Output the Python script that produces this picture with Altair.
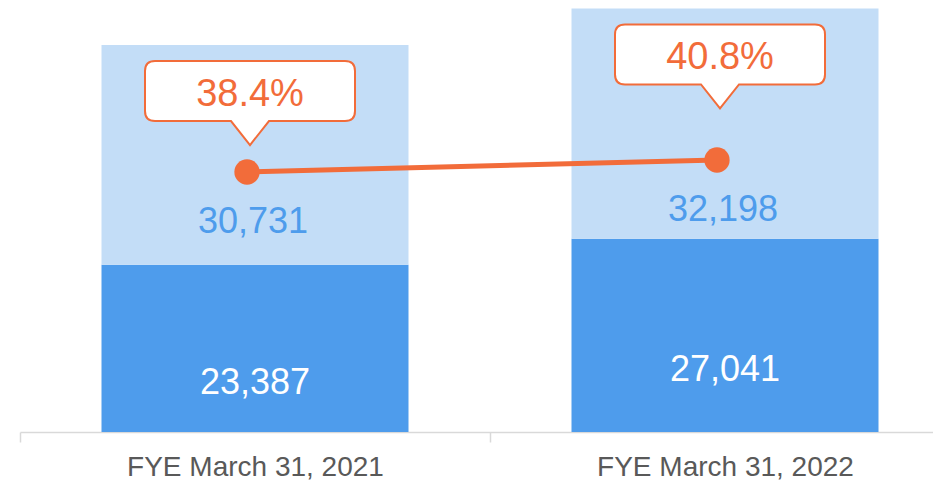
import altair as alt
import pandas as pd

categories = ["FYE March 31, 2021", "FYE March 31, 2022"]
base_values = [23387, 27041]
top_values = [30731, 32198]
ratio_values = [38.4, 40.8]
ratio_labels = ["38.4%", "40.8%"]
base_labels = ["23,387", "27,041"]
top_labels = ["30,731", "32,198"]

df = pd.DataFrame({
    "category": categories,
    "base": base_values,
    "top": top_values,
    "ratio": ratio_values,
    "ratio_label": ratio_labels,
    "base_label": base_labels,
    "top_label": top_labels,
})
df["total"] = df["base"] + df["top"]
df["base_mid"] = df["base"] / 2

DARK = "#4E9CEC"
LIGHT = "#C3DDF7"
ORANGE = "#F26C3A"
FONT = "Liberation Sans"

callout_path = (
    "M0,0 L-0.19,-0.24 L-0.95,-0.24 Q-1.05,-0.24 -1.05,-0.34 L-1.05,-0.74 "
    "Q-1.05,-0.84 -0.95,-0.84 L0.95,-0.84 Q1.05,-0.84 1.05,-0.74 L1.05,-0.34 "
    "Q1.05,-0.24 0.95,-0.24 L0.19,-0.24 Z"
)

x_enc = alt.X(
    "category:N",
    sort=categories,
    title=None,
    scale=alt.Scale(range=[0, 940], paddingInner=0, paddingOuter=0),
    axis=alt.Axis(
        labelAngle=0,
        labelFont=FONT,
        labelFontSize=28,
        labelColor="#595959",
        labelBaseline="alphabetic",
        labelPadding=33,
        labelLimit=0,
        tickBand="extent",
        tickSize=10,
        tickColor="#D9D9D9",
        tickWidth=1.5,
        domainColor="#D9D9D9",
        domainWidth=1.5,
        grid=False,
    ),
)

y_scale = alt.Scale(domain=[0, 59300], nice=False, zero=False)
r_scale = alt.Scale(domain=[-13.6, 71.2], nice=False, zero=False)

base = alt.Chart(df)

dark_bar = base.mark_bar(width=307, color=DARK).encode(
    x=x_enc,
    y=alt.Y("base:Q", scale=y_scale, axis=None),
    y2=alt.datum(0),
)
light_bar = base.mark_bar(width=307, color=LIGHT).encode(
    x=x_enc,
    y=alt.Y("total:Q", scale=y_scale, axis=None),
    y2="base:Q",
)
dark_text = base.mark_text(
    font=FONT, fontSize=36, color="white", baseline="alphabetic", yOffset=46
).encode(
    x=x_enc,
    y=alt.Y("base_mid:Q", scale=y_scale, axis=None),
    text="base_label:N",
)
callout_shape = base.mark_point(
    shape=callout_path, size=40000, filled=True, fill="white", stroke=ORANGE,
    strokeWidth=2, opacity=1, xOffset=-5, yOffset=100,
).encode(
    x=x_enc,
    y=alt.Y("total:Q", scale=y_scale, axis=None),
)
callout_text = base.mark_text(
    font=FONT, fontSize=38, color=ORANGE, baseline="alphabetic",
    xOffset=-5, yOffset=61,
).encode(
    x=x_enc,
    y=alt.Y("total:Q", scale=y_scale, axis=None),
    text="ratio_label:N",
)

primary = alt.layer(dark_bar, light_bar, dark_text, callout_shape, callout_text)

line = base.mark_line(color=ORANGE, strokeWidth=5, xOffset=-8).encode(
    x=x_enc,
    y=alt.Y("ratio:Q", scale=r_scale, axis=None),
)
points = base.mark_point(
    filled=True, color=ORANGE, size=640, opacity=1, xOffset=-8
).encode(
    x=x_enc,
    y=alt.Y("ratio:Q", scale=r_scale, axis=None),
)
light_text = base.mark_text(
    font=FONT, fontSize=36, color=DARK, baseline="alphabetic", yOffset=61, xOffset=-2
).encode(
    x=x_enc,
    y=alt.Y("ratio:Q", scale=r_scale, axis=None),
    text="top_label:N",
)

secondary = alt.layer(line, points, light_text)

chart = (
    alt.layer(primary, secondary)
    .resolve_scale(y="independent")
    .properties(
        width=913,
        height=424,
        autosize=alt.AutoSizeParams(type="none"),
        padding={"left": 12, "top": 0, "right": 0, "bottom": 50},
    )
    .configure_view(stroke=None)
)

chart.save("out.html", embed_options={"renderer": "svg", "actions": False})
